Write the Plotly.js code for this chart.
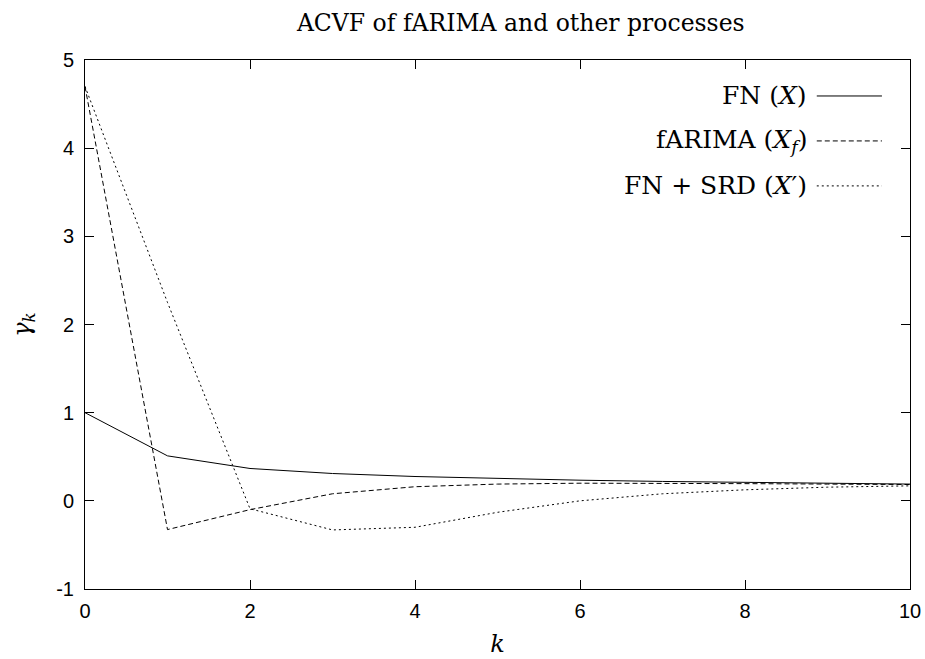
<!DOCTYPE html>
<html>
<head>
<meta charset="utf-8">
<script src="https://cdn.plot.ly/plotly-3.0.1.min.js"></script>
<style>html,body{margin:0;padding:0;background:#fff;}#chart{width:925px;height:659px;}</style>
</head>
<body>
<div id="chart"></div>
<script>
const lags = [0, 1, 2, 3, 4, 5, 6, 7, 8, 9, 10];
const fnValues = [1.0, 0.51, 0.367, 0.31, 0.276, 0.252, 0.234, 0.220, 0.209, 0.199, 0.19];
const farimaValues = [4.7, -0.326, -0.10, 0.08, 0.16, 0.19, 0.20, 0.20, 0.195, 0.19, 0.185];
const srdValues = [4.7, 2.25, -0.09, -0.33, -0.30, -0.13, 0.0, 0.08, 0.125, 0.155, 0.17];
const seriesNames = ["FN (<i>X</i>)", "fARIMA (<i>X</i><sub><i>f</i></sub>)", "FN + SRD (<i>X</i>′)"];
const yTickVals = [-1, 0, 1, 2, 3, 4, 5];
const yTickText = ["-1", "0", "1", "2", "3", "4", "5"];
const xTickVals = [0, 2, 4, 6, 8, 10];

const dashes = ["solid", "5px,3px", "2px,3px"];
const seriesValues = [fnValues, farimaValues, srdValues];

const traces = seriesValues.map((vals, i) => ({
  x: lags, y: vals, type: "scatter", mode: "lines", name: seriesNames[i],
  line: {color: "#000", width: 1, dash: dashes[i]}, showlegend: false
}));

const serif = "DejaVu Serif, Liberation Serif, serif";
const sans = "Liberation Sans, Arial, sans-serif";

const annotations = [];
const shapes = [];
const legendY = [0.932, 0.847, 0.762];
seriesNames.forEach((n, i) => {
  annotations.push({xref: "paper", yref: "paper", x: 0.877, y: legendY[i], xanchor: "right", yanchor: "middle",
    text: n, showarrow: false, font: {family: serif, size: 25, color: "#000"}});
  shapes.push({type: "line", xref: "paper", yref: "paper", x0: 0.887, x1: 0.966, y0: legendY[i], y1: legendY[i],
    line: {color: "#000", width: 1, dash: dashes[i]}});
});

const layout = {
  width: 925, height: 659,
  margin: {l: 85, r: 15, t: 60, b: 70},
  paper_bgcolor: "#fff", plot_bgcolor: "#fff",
  title: {text: "ACVF of fARIMA and other processes", x: 0.563, xanchor: "center", y: 0.965, yanchor: "middle",
    font: {family: serif, size: 23.5, color: "#000"}},
  xaxis: {range: [0, 10], tickvals: xTickVals, ticks: "inside", ticklen: 9, tickcolor: "#000",
    showline: true, linecolor: "#000", linewidth: 1, mirror: "allticks", showgrid: false, zeroline: false,
    ticklabelstandoff: 4,
    tickfont: {family: sans, size: 20, color: "#000"},
    title: {text: "<i>k</i>", font: {family: serif, size: 24, color: "#000"}, standoff: 14}},
  yaxis: {range: [-1, 5], tickvals: yTickVals, ticktext: yTickText, ticks: "inside", ticklen: 9, tickcolor: "#000",
    showline: true, linecolor: "#000", linewidth: 1, mirror: "allticks", showgrid: false, zeroline: false,
    ticklabelstandoff: 6,
    tickfont: {family: sans, size: 20, color: "#000"},
    title: {text: "<i>γ<sub>k</sub></i>", font: {family: serif, size: 24, color: "#000"}, standoff: 18}},
  annotations: annotations,
  shapes: shapes
};

Plotly.newPlot("chart", traces, layout, {displayModeBar: false, staticPlot: true});
</script>
</body>
</html>
